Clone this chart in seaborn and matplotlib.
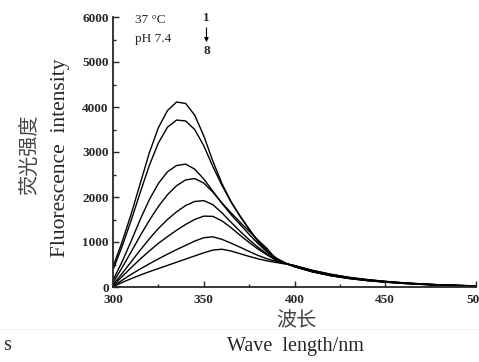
import numpy as np
import pandas as pd
import matplotlib
matplotlib.use("Agg")
import matplotlib.pyplot as plt
from matplotlib.ticker import MultipleLocator
from matplotlib.lines import Line2D
import seaborn as sns

wavelength = [300, 305, 310, 315, 320, 325, 330, 335, 340, 345, 350, 355, 360, 365, 370,
              375, 380, 385, 390, 395, 400, 410, 420, 430, 440, 450, 460, 470, 480, 490, 500]

curve1 = [450, 1000, 1620, 2300, 2980, 3540, 3920, 4110, 4080, 3820, 3360, 2800, 2300, 1900, 1580,
          1290, 1010, 800, 640, 530, 450, 335, 250, 188, 142, 108, 80, 58, 42, 30, 20]
curve2 = [380, 900, 1480, 2100, 2700, 3200, 3550, 3710, 3690, 3500, 3140, 2680, 2260, 1890, 1570,
          1280, 1005, 798, 636, 528, 452, 336, 251, 189, 143, 109, 80, 58, 42, 30, 20]
curve3 = [150, 560, 1020, 1500, 1940, 2300, 2560, 2700, 2730, 2620, 2400, 2130, 1860, 1610, 1390,
          1170, 960, 775, 625, 528, 455, 340, 256, 192, 146, 111, 82, 60, 43, 31, 21]
curve4 = [100, 430, 780, 1140, 1480, 1790, 2050, 2250, 2380, 2410, 2310, 2110, 1870, 1650, 1440,
          1240, 1040, 850, 612, 528, 462, 345, 262, 197, 150, 114, 85, 62, 45, 32, 22]
curve5 = [50, 300, 560, 820, 1070, 1300, 1500, 1670, 1810, 1900, 1920, 1830, 1650, 1440, 1240,
          1050, 880, 730, 602, 526, 466, 352, 268, 202, 155, 118, 88, 64, 46, 33, 23]
curve6 = [30, 230, 430, 620, 800, 970, 1120, 1260, 1390, 1500, 1575, 1570, 1470, 1320, 1150,
          990, 840, 710, 590, 524, 470, 358, 274, 207, 159, 121, 90, 66, 47, 34, 24]
curve7 = [15, 150, 280, 400, 515, 625, 730, 830, 925, 1020, 1095, 1115, 1060, 975, 885,
          790, 700, 625, 570, 522, 475, 365, 280, 212, 163, 124, 92, 68, 49, 35, 25]
curve8 = [5, 100, 185, 265, 340, 410, 480, 550, 620, 690, 760, 820, 840, 800, 740,
          680, 625, 580, 545, 510, 478, 370, 285, 216, 166, 126, 94, 70, 50, 36, 26]

curves = [curve1, curve2, curve3, curve4, curve5, curve6, curve7, curve8]
curve_names = ["1", "2", "3", "4", "5", "6", "7", "8"]

x_ticks = [300, 350, 400, 450, 500]
y_ticks = [0, 1000, 2000, 3000, 4000, 5000, 6000]

frames = []
for name, vals in zip(curve_names, curves):
    frames.append(pd.DataFrame({"wl": wavelength, "I": vals, "curve": name}))
df = pd.concat(frames, ignore_index=True)

sns.set_style("ticks")
plt.rcParams['font.family'] = ['Liberation Serif', 'DejaVu Serif']

fig = plt.figure(figsize=(4.79, 3.62), dpi=100)
ax = fig.add_axes([113/479, 75/362, 363/479, 270/362])

sns.lineplot(data=df, x="wl", y="I", hue="curve", palette=["black"]*8,
             legend=False, ax=ax, linewidth=1.0, sort=False)

ax.set_xlim(300, 500)
ax.set_ylim(0, 6000)
ax.set_xticks(x_ticks)
ax.set_yticks(y_ticks)
ax.xaxis.set_minor_locator(MultipleLocator(25))
ax.yaxis.set_minor_locator(MultipleLocator(500))
ax.tick_params(axis='both', which='major', direction='in', length=4, width=1,
               labelsize=9.5)
ax.tick_params(axis='x', which='major', pad=5)
ax.tick_params(axis='y', which='major', pad=3)
ax.tick_params(axis='both', which='minor', direction='in', length=2.5, width=1)
for lbl in ax.get_xticklabels() + ax.get_yticklabels():
    lbl.set_fontweight('bold')
for s in ['top', 'right']:
    ax.spines[s].set_visible(False)
for s in ['left', 'bottom']:
    ax.spines[s].set_linewidth(1.3)
ax.set_xlabel("")
ax.set_ylabel("")

# y-axis labels
fig.text(60/479, 1 - 158/362, "Fluorescence  intensity", rotation=90,
         ha='center', va='center', fontsize=15.5)
fig.text(30/479, 1 - 155/362, "荧光强度", rotation=90, ha='center', va='center',
         fontsize=14.5, family=['Noto Sans CJK SC', 'DejaVu Sans'], fontweight='light',
         color='#444444')

# x-axis labels
fig.text(296/479, 1 - 321/362, "波长", ha='center', va='center', fontsize=14.5,
         family=['Noto Sans CJK SC', 'DejaVu Sans'], fontweight='light', color='#444444')
fig.text(295/479, 1 - 347/362, "Wave  length/nm", ha='center', va='center', fontsize=14.5)
fig.text(3/479, 1 - 345/362, "s", ha='left', va='center', fontsize=14.5)
fig.add_artist(Line2D([0, 1], [1 - 329/362, 1 - 329/362], color='#f2f2f2',
                      linewidth=0.8, transform=fig.transFigure))

# annotations
ax.text(312, 5940, "37 °C", fontsize=9.5, ha='left', va='center')
ax.text(312, 5520, "pH 7.4", fontsize=9.5, ha='left', va='center')
ax.text(351.5, 5980, "1", fontsize=9.5, ha='center', va='center', fontweight='bold',
        clip_on=False)
ax.annotate("", xy=(351.5, 5380), xytext=(351.5, 5820),
            arrowprops=dict(arrowstyle='-|>', color='black', lw=0.8,
                            mutation_scale=6))
ax.text(351.5, 5250, "8", fontsize=9.5, ha='center', va='center', fontweight='bold')

fig.savefig("out.png", dpi=100)
